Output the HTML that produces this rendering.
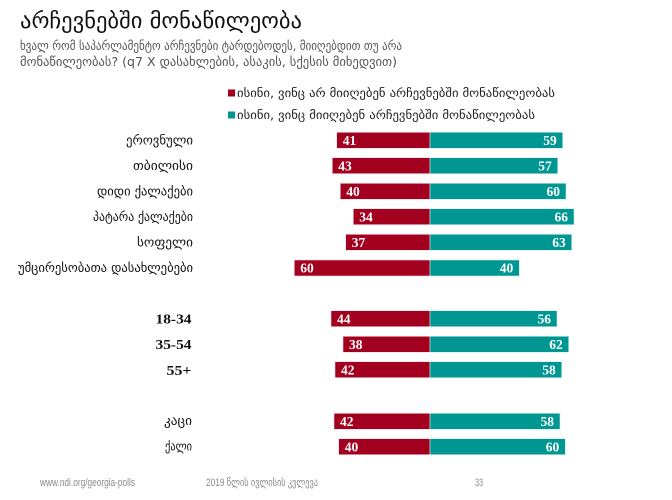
<!DOCTYPE html>
<html><head><meta charset="utf-8"><style>
html,body{margin:0;padding:0;background:#fff;}
svg{display:block;}
.geo{font-family:"DejaVu Sans","Noto Sans CJK SC",sans-serif;}
.num{font-family:"Liberation Serif",serif;font-weight:bold;font-size:13.5px;fill:#fff;}
.age{font-family:"Liberation Serif",serif;font-weight:bold;font-size:13.5px;fill:#111;}
.foot{font-family:"Liberation Sans","DejaVu Sans",sans-serif;font-size:11px;fill:#8a8a8a;}
</style></head><body>
<svg width="672" height="500" viewBox="0 0 672 500" xmlns="http://www.w3.org/2000/svg">
<rect width="672" height="500" fill="#fff"/>
<!-- title -->
<text x="20" y="28" class="geo" font-size="22" fill="#111" textLength="282" lengthAdjust="spacingAndGlyphs">არჩევნებში მონაწილეობა</text>
<text x="20" y="50" class="geo" font-size="12.5" fill="#555" textLength="382" lengthAdjust="spacingAndGlyphs">ხვალ რომ საპარლამენტო არჩევნები ტარდებოდეს, მიიღებდით თუ არა</text>
<text x="20" y="66" class="geo" font-size="12.5" fill="#555" textLength="377" lengthAdjust="spacingAndGlyphs">მონაწილეობას? (q7 X დასახლების, ასაკის, სქესის მიხედვით)</text>
<!-- legend -->
<rect x="228" y="89.5" width="7" height="7" fill="#A3001F"/>
<text x="237" y="97" class="geo" font-size="11.5" fill="#222" textLength="318" lengthAdjust="spacingAndGlyphs">ისინი, ვინც არ მიიღებენ არჩევნებში მონაწილეობას</text>
<rect x="228" y="111.5" width="7" height="7" fill="#009691"/>
<text x="237" y="119" class="geo" font-size="11.5" fill="#222" textLength="298" lengthAdjust="spacingAndGlyphs">ისინი, ვინც მიიღებენ არჩევნებში მონაწილეობას</text>

<g stroke="#f3d8dc" stroke-width="0.6">
<rect x="336.7" y="132.3" width="93.3" height="16" fill="#A3001F"/>
<rect x="430" y="132.3" width="132.7" height="16" fill="#009691" stroke="#cdeceb"/>
<rect x="332.3" y="157.7" width="97.7" height="16" fill="#A3001F"/>
<rect x="430" y="157.7" width="127.7" height="16" fill="#009691" stroke="#cdeceb"/>
<rect x="340.3" y="183.3" width="89.7" height="16" fill="#A3001F"/>
<rect x="430" y="183.3" width="136" height="16" fill="#009691" stroke="#cdeceb"/>
<rect x="353.3" y="208.7" width="76.7" height="16" fill="#A3001F"/>
<rect x="430" y="208.7" width="144" height="16" fill="#009691" stroke="#cdeceb"/>
<rect x="345.7" y="234.3" width="84.3" height="16" fill="#A3001F"/>
<rect x="430" y="234.3" width="141.7" height="16" fill="#009691" stroke="#cdeceb"/>
<rect x="294.3" y="260" width="135.7" height="16" fill="#A3001F"/>
<rect x="430" y="260" width="89.3" height="16" fill="#009691" stroke="#cdeceb"/>
<rect x="331" y="310.7" width="99" height="16" fill="#A3001F"/>
<rect x="430" y="310.7" width="127" height="16" fill="#009691" stroke="#cdeceb"/>
<rect x="343" y="336.3" width="87" height="16" fill="#A3001F"/>
<rect x="430" y="336.3" width="138.7" height="16" fill="#009691" stroke="#cdeceb"/>
<rect x="335" y="361.7" width="95" height="16" fill="#A3001F"/>
<rect x="430" y="361.7" width="131.7" height="16" fill="#009691" stroke="#cdeceb"/>
<rect x="334" y="413.3" width="96" height="16" fill="#A3001F"/>
<rect x="430" y="413.3" width="130" height="16" fill="#009691" stroke="#cdeceb"/>
<rect x="338.7" y="438.7" width="91.3" height="16" fill="#A3001F"/>
<rect x="430" y="438.7" width="135.3" height="16" fill="#009691" stroke="#cdeceb"/>
</g>

<g class="num">
<text x="342.7" y="145">41</text>
<text x="338.3" y="170.4">43</text>
<text x="346.3" y="196">40</text>
<text x="359.3" y="221.4">34</text>
<text x="351.7" y="247">37</text>
<text x="300.3" y="272.7">60</text>
<text x="337" y="323.4">44</text>
<text x="349" y="349">38</text>
<text x="341" y="374.4">42</text>
<text x="340" y="426">42</text>
<text x="344.7" y="451.4">40</text>
</g>
<g class="num" text-anchor="end">
<text x="556.7" y="145">59</text>
<text x="551.7" y="170.4">57</text>
<text x="560" y="196">60</text>
<text x="568" y="221.4">66</text>
<text x="565.7" y="247">63</text>
<text x="513.3" y="272.7">40</text>
<text x="551" y="323.4">56</text>
<text x="562.7" y="349">62</text>
<text x="555.7" y="374.4">58</text>
<text x="554" y="426">58</text>
<text x="559.3" y="451.4">60</text>
</g>

<g class="geo" font-size="12.5" fill="#111" text-anchor="end">
<text x="193" y="144.5" textLength="67" lengthAdjust="spacingAndGlyphs">ეროვნული</text>
<text x="193" y="170" textLength="60" lengthAdjust="spacingAndGlyphs">თბილისი</text>
<text x="193" y="195.5" textLength="96" lengthAdjust="spacingAndGlyphs">დიდი ქალაქები</text>
<text x="193" y="221" textLength="100" lengthAdjust="spacingAndGlyphs">პატარა ქალაქები</text>
<text x="193" y="246.5" textLength="56" lengthAdjust="spacingAndGlyphs">სოფელი</text>
<text x="193" y="272" textLength="175" lengthAdjust="spacingAndGlyphs">უმცირესობათა დასახლებები</text>
<text x="192" y="425" textLength="28" lengthAdjust="spacingAndGlyphs">კაცი</text>
<text x="192" y="450.5" textLength="27" lengthAdjust="spacingAndGlyphs">ქალი</text>
</g>
<g class="age" text-anchor="end">
<text x="191.5" y="323.5" textLength="36" lengthAdjust="spacingAndGlyphs">18-34</text>
<text x="191.5" y="349" textLength="36" lengthAdjust="spacingAndGlyphs">35-54</text>
<text x="191.5" y="375" textLength="25" lengthAdjust="spacingAndGlyphs">55+</text>
</g>

<text x="40" y="486" class="foot" textLength="95" lengthAdjust="spacingAndGlyphs">www.ndi.org/georgia-polls</text>
<text x="206" y="486" class="foot" textLength="112" lengthAdjust="spacingAndGlyphs">2019 წლის ივლისის კვლევა</text>
<text x="475" y="486" class="foot" textLength="8" lengthAdjust="spacingAndGlyphs">33</text>
</svg>
</body></html>
